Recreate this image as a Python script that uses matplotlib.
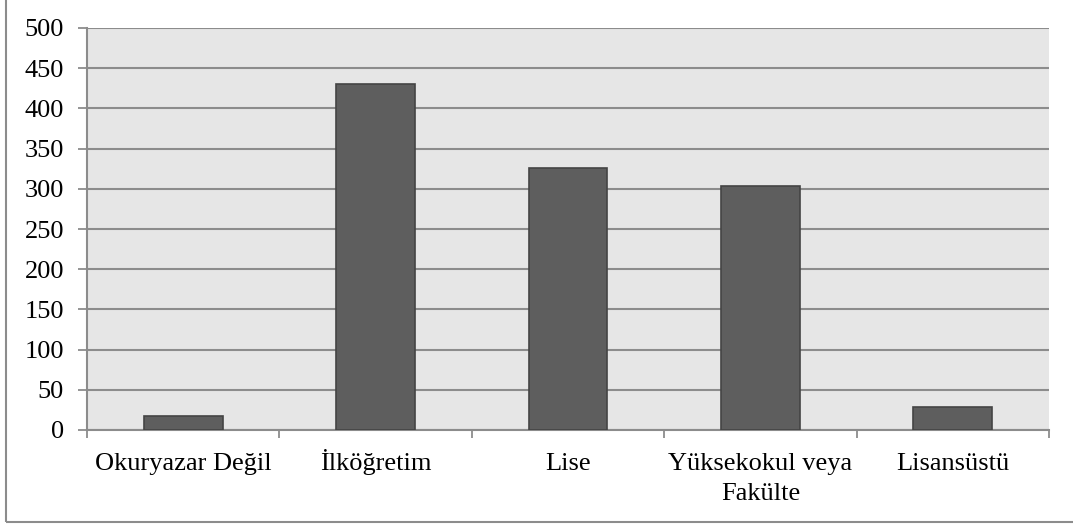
import matplotlib.pyplot as plt
import matplotlib.transforms as mtransforms
from matplotlib.patches import Rectangle

plt.rcParams['font.family'] = ['Liberation Serif', 'DejaVu Serif']
plt.rcParams['font.size'] = 19

# veriler
kategoriler = ['Okuryazar Değil', 'İlköğretim', 'Lise', 'Yüksekokul veya\nFakülte', 'Lisansüstü']
degerler = [18, 430, 326, 304, 28]
yticks = list(range(0, 501, 50))

W, H = 1073, 527
fig = plt.figure(figsize=(W / 100, H / 100), dpi=100)

# dış çerçeve
fig.patches.append(Rectangle((6 / W, 1 - 522 / H), 1.2, 1.2, transform=fig.transFigure,
                             fill=False, edgecolor='#8c8c8c', linewidth=1.5))

ax = fig.add_axes([87 / W, 1 - 430 / H, (1049 - 87) / W, (430 - 28) / H])
ax.set_facecolor('#e6e6e6')

x = range(len(kategoriler))
ax.bar(x, degerler, width=0.41, color='#5e5e5e', edgecolor='#444444', linewidth=1.2, zorder=3)

ax.set_ylim(0, 500)
ax.set_xlim(-0.5, len(kategoriler) - 0.5)
ax.set_yticks(yticks)
ax.yaxis.grid(True, color='#8c8c8c', linewidth=1.5, zorder=0)

# ayırıcı tik işaretleri kategori sınırlarında
ax.set_xticks([i - 0.5 for i in range(len(kategoriler) + 1)])
ax.set_xticklabels([])
ax.tick_params(axis='x', length=6, width=1.3, color='#8c8c8c')
ax.tick_params(axis='y', length=6.5, width=1.3, color='#8c8c8c', pad=10)

# kategori etiketleri: satırlar taban çizgisine hizalı
trans = ax.get_xaxis_transform()
for i, lab in enumerate(kategoriler):
    for j, satir in enumerate(lab.split('\n')):
        off = mtransforms.ScaledTranslation(0, -(40 + 30 * j) / 100, fig.dpi_scale_trans)
        ax.text(i, 0, satir, transform=trans + off, ha='center', va='baseline')

for s in ['top', 'right']:
    ax.spines[s].set_visible(False)
for s in ['left', 'bottom']:
    ax.spines[s].set_color('#8c8c8c')
    ax.spines[s].set_linewidth(1.5)

fig.savefig('out.png', dpi=100)
